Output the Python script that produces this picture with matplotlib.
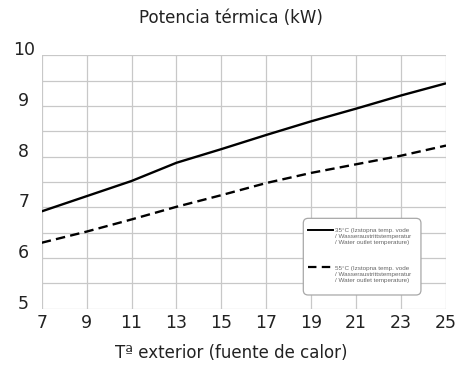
import matplotlib
matplotlib.use("Agg")
import matplotlib.pyplot as plt
from matplotlib.lines import Line2D
from matplotlib.patches import FancyBboxPatch

x_temp = [7, 9, 11, 13, 15, 17, 19, 21, 23, 25]
power_35 = [6.92, 7.22, 7.52, 7.88, 8.15, 8.43, 8.70, 8.95, 9.21, 9.45]
power_55 = [6.30, 6.52, 6.76, 7.01, 7.24, 7.48, 7.68, 7.85, 8.02, 8.22]
x_ticks = [7, 9, 11, 13, 15, 17, 19, 21, 23, 25]
y_ticks = [5, 6, 7, 8, 9, 10]
label_35 = "35°C (Izstopna temp. vode\n/ Wasseraustrittstemperatur\n/ Water outlet temperature)"
label_55 = "55°C (Izstopna temp. vode\n/ Wasseraustrittstemperatur\n/ Water outlet temperature)"
title = "Potencia térmica (kW)"
xlabel = "Tª exterior (fuente de calor)"

plt.rcParams['font.family'] = ['DejaVu Sans']
fig = plt.figure(figsize=(4.62, 3.67), dpi=100)
ax = fig.add_axes([0.0903, 0.1594, 0.8751, 0.6894])

grid_c = '#c8c8c8'
for v in [5 + 0.5 * i for i in range(11)]:
    ax.axhline(v, color=grid_c, lw=0.9, zorder=1)
for v in x_ticks:
    ax.axvline(v, color=grid_c, lw=0.9, zorder=1)

ax.plot(x_temp, power_35, color='black', lw=1.7, zorder=3, solid_capstyle='butt')
ax.plot(x_temp, power_55, color='black', lw=1.7, ls=(0, (4, 2.2)), zorder=3)

ax.set_xlim(7, 25)
ax.set_ylim(5, 10)
ax.set_xticks(x_ticks)
ax.set_yticks(y_ticks)
ax.tick_params(axis='both', length=0, labelsize=12.5, colors='#222222')
ax.tick_params(axis='x', pad=4)
ax.tick_params(axis='y', pad=13)
for lab in ax.get_yticklabels():
    lab.set_horizontalalignment('center')
    lab.set_verticalalignment('baseline')
for s in ax.spines.values():
    s.set_visible(False)

fig.text(0.5, 0.952, title, ha='center', va='center', fontsize=12, color='#222222')
fig.text(0.5, 0.038, xlabel, ha='center', va='center', fontsize=12, color='#222222')

# legend box drawn manually (axes coordinates)
box = FancyBboxPatch((0.647, 0.0534), 0.291, 0.303, transform=ax.transAxes,
                     boxstyle="round,pad=0,rounding_size=0.012",
                     facecolor='white', edgecolor='#a8a8a8', lw=0.9, zorder=5,
                     mutation_aspect=1.6)
ax.add_patch(box)
ax.add_line(Line2D([0.658, 0.721], [0.310, 0.310], transform=ax.transAxes,
                   color='black', lw=1.4, zorder=6))
ax.add_line(Line2D([0.658, 0.721], [0.165, 0.165], transform=ax.transAxes,
                   color='black', lw=1.6, ls=(0, (3.8, 2.4)), zorder=6))
for txt, yc in [(label_35, 0.2846), (label_55, 0.1356)]:
    ax.text(0.7255, yc, txt, transform=ax.transAxes, fontsize=4.5,
            family=['Liberation Sans', 'DejaVu Sans'], color='#666666',
            ha='left', va='center', linespacing=1.25, zorder=6)

fig.savefig("out.png", dpi=100)
